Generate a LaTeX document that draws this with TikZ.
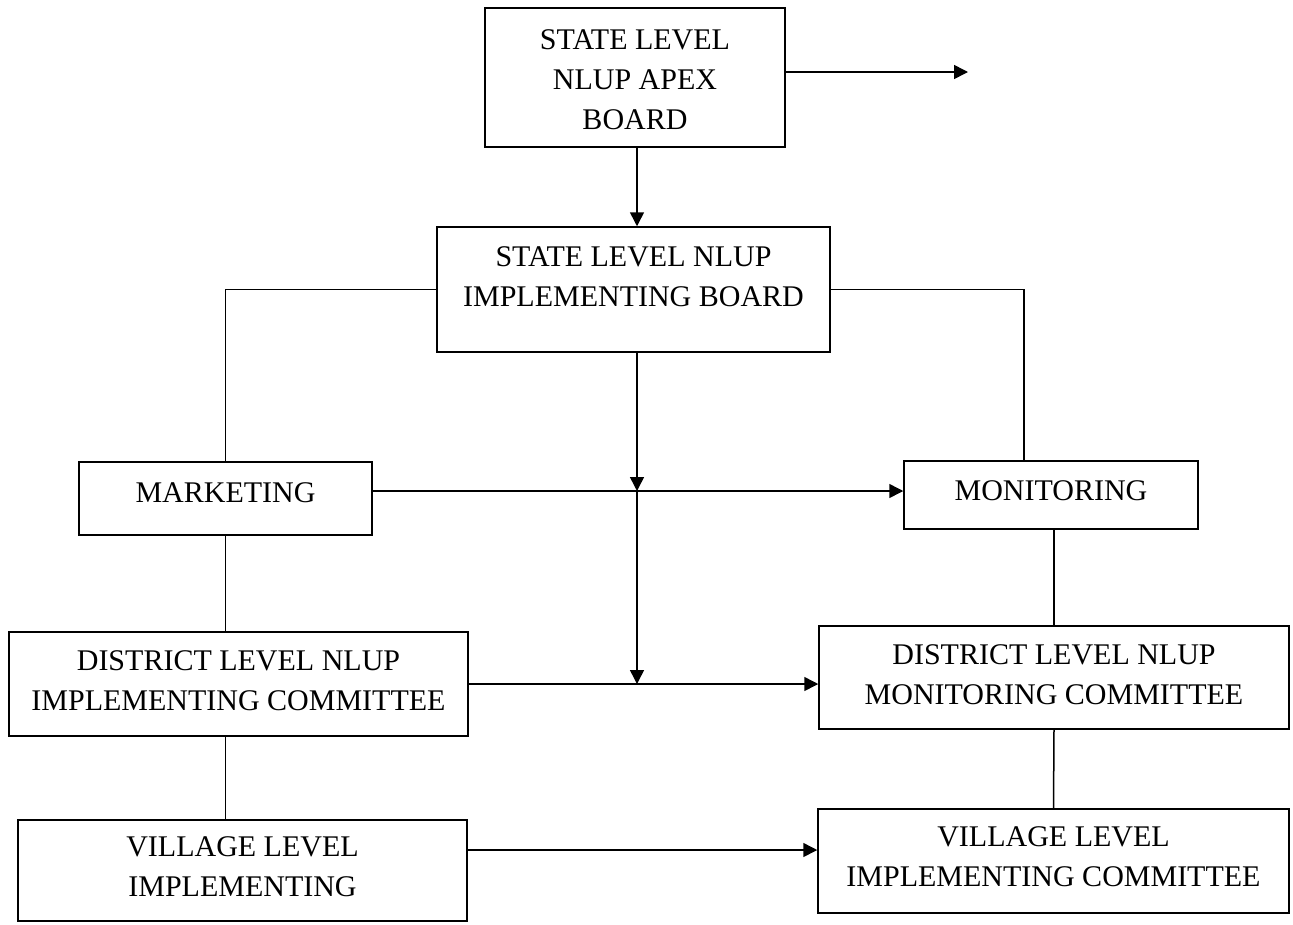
\documentclass[tikz,border=0pt]{standalone}
\usepackage{fontspec}
\setmainfont{Liberation Serif}
\usetikzlibrary{arrows.meta}
\tikzset{
  box/.style={draw, line width=1.5pt, rectangle, inner sep=0pt},
  lbl/.style={align=center, inner sep=0pt, font=\fontsize{30}{40}\selectfont},
  conn/.style={line width=1.5pt},
  arr/.style={line width=1.5pt, -{Triangle[length=14pt,width=14pt]}}
}
\begin{document}
\begin{tikzpicture}[x=1pt,y=-1pt]
\useasboundingbox (0,0) rectangle (1293,924);
% boxes
\node[box, minimum width=300, minimum height=139] (apex) at (635,77.5) {};
\node[lbl] (apext) at (635,80) {STATE LEVEL\\NLUP APEX\\BOARD};
\node[box, minimum width=393, minimum height=125] (ib) at (633.5,289.5) {};
\node[lbl] (ibt) at (633.5,277) {STATE LEVEL NLUP\\IMPLEMENTING BOARD};
\node[box, minimum width=293, minimum height=73] (mk) at (225.5,498.5) {};
\node[lbl] (mkt) at (225.5,493) {MARKETING};
\node[box, minimum width=294, minimum height=68] (mon) at (1051,495) {};
\node[lbl] (mont) at (1051,491) {MONITORING};
\node[box, minimum width=459, minimum height=104] (di) at (238.5,684) {};
\node[lbl] (dit) at (238.5,681) {DISTRICT LEVEL NLUP\\IMPLEMENTING COMMITTEE};
\node[box, minimum width=470, minimum height=103] (dm) at (1054,677.5) {};
\node[lbl] (dmt) at (1054,675) {DISTRICT LEVEL NLUP\\MONITORING COMMITTEE};
\node[box, minimum width=449, minimum height=101] (vl) at (242.5,870.5) {};
\node[lbl] (vlt) at (242.5,867) {VILLAGE LEVEL\\IMPLEMENTING};
\node[box, minimum width=471, minimum height=104] (vr) at (1053.5,861) {};
\node[lbl] (vrt) at (1053.5,857) {VILLAGE LEVEL\\IMPLEMENTING COMMITTEE};
% coordinates
\coordinate (aend) at (968,72);
\coordinate (j1) at (637,491);
\coordinate (j2) at (637,684);
\coordinate (rline) at (1024,461);
\coordinate (vy) at (0,850);
% connectors
\draw[arr] ([yshift=5.5pt]apex.east) -- (aend);
\draw[arr] (apex.south -| j1) -- (ib.north -| j1);
\draw[conn] (ib.west) -| (mk.north);
\draw[conn] (ib.east) -| (rline);
\draw[arr] (ib.south -| j1) -- (j1);
\draw[arr] (j1) -- (j2);
\draw[arr] (mk.east |- j1) -- (mon.west |- j1);
\draw[arr] (di.east) -- (dm.west |- di.east);
\draw[conn] (mk.south) -- (mk.south |- di.north);
\draw[conn] (mk.south |- di.south) -- (mk.south |- vl.north);
\draw[arr] (vl.east |- vy) -- (vr.west |- vy);
\draw[conn] (dm.north |- mon.south) -- (dm.north);
\draw[conn] (dm.south) -- (vr.north);
\end{tikzpicture}
\end{document}
